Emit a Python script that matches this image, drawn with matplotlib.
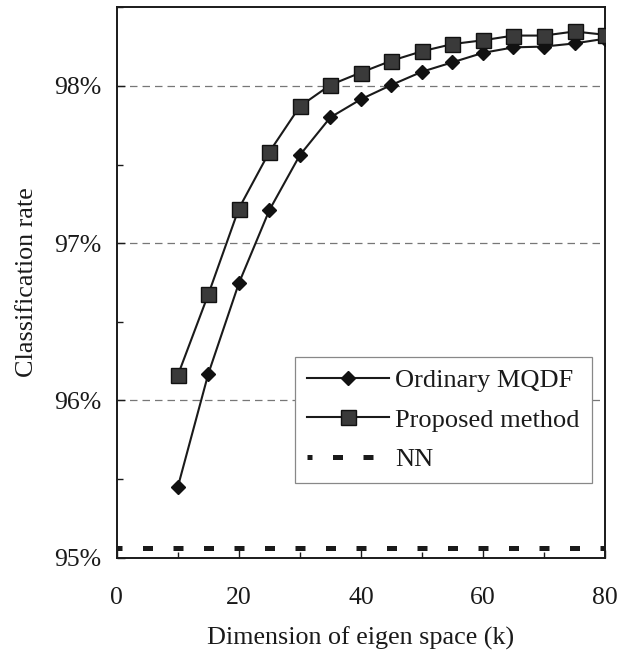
import matplotlib
matplotlib.use("Agg")
import matplotlib.pyplot as plt
from matplotlib.ticker import MultipleLocator, FuncFormatter

plt.rcParams['font.family'] = ['Liberation Serif', 'DejaVu Serif']

k = [10, 15, 20, 25, 30, 35, 40, 45, 50, 55, 60, 65, 70, 75, 80]
mqdf = [95.45, 96.17, 96.745, 97.21, 97.56, 97.80, 97.915, 98.006, 98.09,
        98.15, 98.21, 98.245, 98.25, 98.27, 98.30]
proposed = [96.16, 96.675, 97.22, 97.58, 97.87, 98.006, 98.085, 98.16,
            98.22, 98.266, 98.29, 98.32, 98.32, 98.346, 98.325]
nn_k = [0, 80]
nn = [95.06, 95.06]

fig = plt.figure(figsize=(6.18, 6.6), dpi=100)
ax = fig.add_axes([0.189, 0.155, 0.790, 0.834])

ink = '#1a1a1a'
ax.plot(k, mqdf, color=ink, lw=1.5, marker='D', ms=7.5, mfc='#111111', mec='#111111',
        label='Ordinary MQDF', zorder=3)
ax.plot(k, proposed, color=ink, lw=1.5, marker='s', ms=10.8, mfc='#3a3a3a', mec='#111111',
        label='Proposed method', zorder=3)
ax.plot(nn_k, nn, color=ink, lw=3.6, linestyle=(1.0, (2.0, 4.1)), dash_capstyle='butt',
        label='NN', zorder=3)

ax.set_xlim(0, 80)
ax.set_ylim(95, 98.5)
ax.xaxis.set_major_locator(MultipleLocator(20))
ax.xaxis.set_minor_locator(MultipleLocator(10))
ax.yaxis.set_major_locator(MultipleLocator(1))
ax.yaxis.set_minor_locator(MultipleLocator(0.5))
ax.yaxis.set_major_formatter(FuncFormatter(lambda v, p: f"{v:.0f}%"))
ax.tick_params(axis='both', which='both', direction='in', colors=ink, labelsize=18.5,
               top=False, right=False)
ax.tick_params(axis='both', which='major', length=6, width=1.0)
ax.tick_params(axis='both', which='minor', length=4, width=1.0)
ax.tick_params(axis='x', pad=21)
ax.tick_params(axis='y', pad=11)

for v in [96, 97, 98]:
    ax.axhline(v, color='#777777', lw=0.9, linestyle=(0, (6, 4)), zorder=1)

for s in ax.spines.values():
    s.set_color(ink)
    s.set_linewidth(1.4)

ax.set_xlabel('Dimension of eigen space (k)', fontsize=18.8, color=ink, labelpad=13)
ax.set_ylabel('Classification rate', fontsize=18.8, color=ink, labelpad=12)

leg = ax.legend(loc='lower left', bbox_to_anchor=(0.365, 0.136), fontsize=19,
                frameon=True, fancybox=False, edgecolor='#888888', framealpha=1,
                handlelength=3.1, handletextpad=0.25, borderpad=0.45, labelspacing=0.6,
                borderaxespad=0)
leg.get_frame().set_linewidth(0.9)
for t in leg.get_texts():
    t.set_color(ink)

fig.savefig('out.png', dpi=100)
